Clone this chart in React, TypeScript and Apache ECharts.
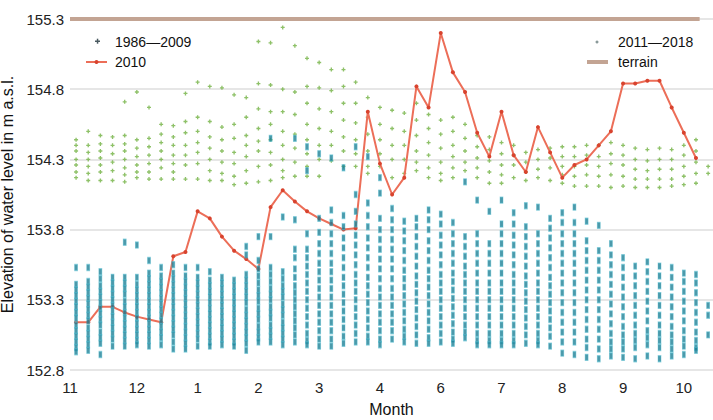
import React, { useEffect, useRef } from "react";
import * as echarts from "echarts";

// x axis: week index from 1 November (11) onwards
const xLabels = ["11", "12", "1", "2", "3", "4", "6", "7", "8", "9", "10"];
const xLabelPos = [-0.5, 5, 10, 15, 20, 25, 30, 35, 40, 45, 50];

const terrainLevel = 155.3;
const terrainSpan = [-0.5, 51.3];

// 2010 weekly water level (m a.s.l.)
const level2010 = [
  153.14, 153.14, 153.25, 153.25, 153.21, 153.18, 153.16, 153.14, 153.61, 153.64,
  153.93, 153.88, 153.75, 153.65, 153.59, 153.52, 153.96, 154.08, 154.0, 153.93,
  153.88, 153.84, 153.8, 153.81, 154.64, 154.27, 154.05, 154.17, 154.82, 154.67,
  155.2, 154.92, 154.78, 154.49, 154.32, 154.64, 154.33, 154.21, 154.53, 154.35,
  154.17, 154.26, 154.3, 154.4, 154.5, 154.84, 154.84, 154.86, 154.86, 154.67,
  154.49, 154.31,
];

// 1986–2009 values per week column
const levels1986to2009: number[][] = [
  [153.53, 153.41, 153.37, 153.33, 153.29, 153.25, 153.21, 153.17, 153.12, 153.08, 153.04, 153.0, 152.96, 152.93],
  [153.53, 153.43, 153.39, 153.35, 153.31, 153.27, 153.23, 153.19, 153.15, 153.1, 153.06, 153.02, 152.98, 152.94],
  [153.5, 153.45, 153.4, 153.36, 153.32, 153.28, 153.24, 153.2, 153.16, 153.12, 153.07, 153.03, 152.99, 152.91],
  [153.46, 153.42, 153.38, 153.34, 153.3, 153.26, 153.22, 153.18, 153.14, 153.1, 153.06, 153.02, 152.97],
  [153.71, 153.46, 153.42, 153.38, 153.34, 153.29, 153.25, 153.21, 153.17, 153.13, 153.09, 153.05, 153.01, 152.97],
  [153.69, 153.46, 153.41, 153.37, 153.33, 153.29, 153.25, 153.21, 153.17, 153.13, 153.09, 153.05, 153.01, 152.98],
  [153.58, 153.49, 153.45, 153.41, 153.37, 153.33, 153.29, 153.25, 153.21, 153.17, 153.13, 153.09, 153.05, 153.01, 152.97],
  [153.53, 153.47, 153.43, 153.39, 153.35, 153.31, 153.27, 153.23, 153.19, 153.15, 153.11, 153.07, 153.03, 152.98],
  [153.55, 153.49, 153.45, 153.41, 153.37, 153.33, 153.29, 153.25, 153.21, 153.17, 153.13, 153.09, 153.05, 153.0, 152.95],
  [153.53, 153.47, 153.43, 153.39, 153.35, 153.31, 153.27, 153.23, 153.19, 153.15, 153.11, 153.07, 153.03, 152.99, 152.95],
  [153.53, 153.46, 153.42, 153.38, 153.34, 153.3, 153.26, 153.22, 153.18, 153.14, 153.1, 153.06, 153.02, 152.97],
  [153.5, 153.44, 153.4, 153.36, 153.32, 153.28, 153.24, 153.2, 153.16, 153.12, 153.08, 153.04, 153.0, 152.97],
  [153.46, 153.42, 153.38, 153.34, 153.3, 153.26, 153.22, 153.18, 153.14, 153.1, 153.06, 153.02, 152.98],
  [153.44, 153.4, 153.36, 153.32, 153.28, 153.24, 153.2, 153.16, 153.12, 153.08, 153.04, 153.0, 152.97],
  [153.68, 153.62, 153.48, 153.44, 153.4, 153.36, 153.32, 153.28, 153.23, 153.19, 153.15, 153.11, 153.07, 153.03, 152.99, 152.94],
  [153.75, 153.58, 153.52, 153.47, 153.42, 153.37, 153.33, 153.29, 153.24, 153.2, 153.16, 153.11, 153.07, 153.03, 153.0],
  [154.45, 153.75, 153.53, 153.48, 153.43, 153.38, 153.34, 153.3, 153.25, 153.21, 153.17, 153.12, 153.08, 153.04, 153.0],
  [153.89, 153.5, 153.45, 153.4, 153.36, 153.32, 153.27, 153.23, 153.19, 153.14, 153.1, 153.06, 153.02, 152.98],
  [154.45, 153.87, 153.66, 153.6, 153.52, 153.46, 153.4, 153.35, 153.3, 153.25, 153.2, 153.15, 153.1, 153.05, 153.0],
  [154.39, 154.22, 153.77, 153.66, 153.6, 153.54, 153.48, 153.42, 153.36, 153.3, 153.24, 153.18, 153.12, 153.06, 153.01, 152.98],
  [154.34, 153.88, 153.78, 153.7, 153.63, 153.56, 153.5, 153.44, 153.38, 153.32, 153.26, 153.2, 153.14, 153.08, 153.02, 152.97],
  [154.31, 153.94, 153.85, 153.77, 153.7, 153.63, 153.56, 153.5, 153.44, 153.38, 153.32, 153.26, 153.2, 153.14, 153.08, 153.02, 152.97],
  [154.24, 153.9, 153.82, 153.74, 153.67, 153.6, 153.53, 153.46, 153.4, 153.34, 153.28, 153.22, 153.16, 153.1, 153.04, 152.99],
  [154.39, 154.05, 153.93, 153.84, 153.76, 153.69, 153.62, 153.55, 153.48, 153.42, 153.36, 153.3, 153.24, 153.18, 153.12, 153.06, 153.0],
  [154.32, 153.99, 153.9, 153.82, 153.74, 153.67, 153.6, 153.53, 153.46, 153.4, 153.34, 153.28, 153.22, 153.16, 153.1, 153.04, 153.0],
  [154.17, 154.06, 153.88, 153.8, 153.73, 153.66, 153.59, 153.52, 153.45, 153.38, 153.32, 153.26, 153.2, 153.14, 153.08, 153.02, 152.98],
  [153.95, 153.87, 153.8, 153.73, 153.66, 153.59, 153.52, 153.45, 153.38, 153.32, 153.26, 153.2, 153.14, 153.08, 153.02],
  [153.86, 153.79, 153.72, 153.65, 153.58, 153.51, 153.45, 153.39, 153.33, 153.27, 153.21, 153.15, 153.09, 153.04, 153.0],
  [153.88, 153.82, 153.75, 153.68, 153.61, 153.54, 153.47, 153.41, 153.35, 153.29, 153.23, 153.17, 153.11, 153.05, 152.99],
  [153.94, 153.87, 153.8, 153.72, 153.65, 153.58, 153.51, 153.45, 153.39, 153.33, 153.27, 153.21, 153.15, 153.09, 153.03, 152.99],
  [153.91, 153.84, 153.76, 153.69, 153.62, 153.55, 153.48, 153.42, 153.36, 153.3, 153.24, 153.18, 153.12, 153.06, 153.0],
  [153.85, 153.77, 153.7, 153.63, 153.56, 153.49, 153.43, 153.37, 153.31, 153.25, 153.19, 153.13, 153.07, 153.02, 152.99],
  [154.14, 153.75, 153.68, 153.61, 153.54, 153.48, 153.42, 153.36, 153.3, 153.24, 153.18, 153.12, 153.07, 153.03],
  [154.01, 153.77, 153.7, 153.63, 153.56, 153.49, 153.42, 153.36, 153.3, 153.24, 153.18, 153.12, 153.06, 153.01, 152.98],
  [153.93, 153.7, 153.63, 153.56, 153.49, 153.42, 153.36, 153.3, 153.24, 153.18, 153.12, 153.06, 153.01, 152.98],
  [154.01, 153.84, 153.77, 153.7, 153.63, 153.56, 153.49, 153.42, 153.36, 153.3, 153.24, 153.18, 153.12, 153.06, 153.01, 152.98],
  [153.92, 153.84, 153.76, 153.69, 153.62, 153.55, 153.48, 153.42, 153.36, 153.3, 153.24, 153.18, 153.12, 153.06, 153.01, 152.98],
  [153.97, 153.82, 153.75, 153.68, 153.61, 153.54, 153.47, 153.41, 153.35, 153.29, 153.23, 153.17, 153.11, 153.05, 152.99],
  [153.96, 153.77, 153.7, 153.63, 153.56, 153.49, 153.42, 153.36, 153.3, 153.24, 153.18, 153.12, 153.06, 153.01, 152.98],
  [153.88, 153.81, 153.74, 153.67, 153.6, 153.53, 153.46, 153.4, 153.34, 153.28, 153.22, 153.16, 153.1, 153.04, 152.97],
  [153.92, 153.85, 153.77, 153.7, 153.63, 153.56, 153.49, 153.42, 153.35, 153.28, 153.21, 153.14, 153.07, 153.0, 152.92],
  [153.96, 153.85, 153.77, 153.7, 153.63, 153.56, 153.49, 153.42, 153.35, 153.28, 153.21, 153.14, 153.07, 153.0, 152.91],
  [153.86, 153.72, 153.65, 153.58, 153.51, 153.44, 153.37, 153.3, 153.23, 153.16, 153.09, 153.02, 152.96, 152.89],
  [153.83, 153.65, 153.58, 153.51, 153.44, 153.37, 153.3, 153.23, 153.16, 153.09, 153.02, 152.95, 152.88],
  [153.7, 153.62, 153.55, 153.48, 153.41, 153.34, 153.27, 153.2, 153.13, 153.06, 153.0, 152.95, 152.9],
  [153.6, 153.53, 153.46, 153.39, 153.32, 153.25, 153.18, 153.11, 153.05, 153.0, 152.95, 152.89],
  [153.54, 153.47, 153.4, 153.33, 153.26, 153.19, 153.12, 153.06, 153.01, 152.96, 152.88],
  [153.57, 153.5, 153.43, 153.36, 153.29, 153.22, 153.15, 153.08, 153.03, 152.98, 152.9],
  [153.54, 153.47, 153.4, 153.33, 153.26, 153.19, 153.12, 153.06, 153.01, 152.96, 152.88],
  [153.53, 153.46, 153.39, 153.32, 153.25, 153.18, 153.11, 153.05, 153.0, 152.95, 152.9],
  [153.49, 153.43, 153.36, 153.29, 153.22, 153.15, 153.08, 153.02, 152.97, 152.91],
  [153.48, 153.42, 153.35, 153.28, 153.21, 153.14, 153.07, 153.01, 152.96, 152.94],
  [153.26, 153.19, 153.05],
];

// 2011–2018 values per week column
const levels2011to2018: number[][] = [
  [154.44, 154.4, 154.36, 154.3, 154.26, 154.21, 154.17],
  [154.5, 154.4, 154.35, 154.3, 154.25, 154.2, 154.15],
  [154.47, 154.41, 154.36, 154.31, 154.26, 154.21, 154.15],
  [154.46, 154.4, 154.34, 154.28, 154.22, 154.15],
  [154.71, 154.47, 154.41, 154.36, 154.3, 154.24, 154.19, 154.14],
  [154.78, 154.44, 154.38, 154.32, 154.26, 154.21, 154.17],
  [154.67, 154.45, 154.39, 154.33, 154.27, 154.21, 154.16],
  [154.55, 154.48, 154.42, 154.36, 154.3, 154.24, 154.16],
  [154.54, 154.46, 154.4, 154.33, 154.27, 154.21, 154.16],
  [154.77, 154.57, 154.49, 154.4, 154.33, 154.26, 154.16],
  [154.85, 154.6, 154.5, 154.42, 154.35, 154.27, 154.16],
  [154.82, 154.57, 154.46, 154.38, 154.3, 154.22, 154.15],
  [154.81, 154.53, 154.44, 154.36, 154.28, 154.2, 154.15],
  [154.76, 154.55, 154.45, 154.35, 154.27, 154.18, 154.12],
  [154.74, 154.6, 154.47, 154.4, 154.32, 154.22, 154.13],
  [155.14, 154.84, 154.66, 154.52, 154.43, 154.36, 154.25, 154.14],
  [155.13, 154.83, 154.64, 154.55, 154.44, 154.35, 154.26, 154.15],
  [155.24, 154.8, 154.64, 154.5, 154.4, 154.3, 154.22, 154.17],
  [155.11, 154.78, 154.62, 154.48, 154.38, 154.28, 154.18],
  [155.02, 154.82, 154.7, 154.55, 154.44, 154.34, 154.25, 154.18],
  [154.99, 154.81, 154.66, 154.52, 154.4, 154.3, 154.18],
  [154.94, 154.79, 154.64, 154.5, 154.4, 154.29],
  [154.94, 154.82, 154.7, 154.58, 154.46, 154.36, 154.25],
  [154.85, 154.7, 154.56, 154.44, 154.34, 154.25],
  [154.74, 154.6, 154.48, 154.36, 154.25, 154.2],
  [154.67, 154.55, 154.44, 154.34, 154.25],
  [154.65, 154.52, 154.4, 154.3, 154.17],
  [154.63, 154.5, 154.4, 154.3, 154.2],
  [154.7, 154.58, 154.47, 154.36, 154.28, 154.22],
  [154.62, 154.52, 154.42, 154.33, 154.24, 154.17],
  [154.58, 154.48, 154.38, 154.28, 154.2, 154.15],
  [154.6, 154.5, 154.4, 154.32, 154.24, 154.17],
  [154.55, 154.45, 154.36, 154.28, 154.22],
  [154.47, 154.39, 154.31, 154.24, 154.17],
  [154.46, 154.37, 154.29, 154.21, 154.13],
  [154.42, 154.34, 154.26, 154.19, 154.13],
  [154.4, 154.33, 154.26, 154.17],
  [154.35, 154.28, 154.21, 154.15],
  [154.37, 154.3, 154.23, 154.17],
  [154.38, 154.31, 154.24, 154.15],
  [154.39, 154.32, 154.25, 154.19, 154.13],
  [154.39, 154.32, 154.25, 154.18, 154.11],
  [154.4, 154.33, 154.26, 154.19, 154.11],
  [154.4, 154.32, 154.25, 154.18, 154.11],
  [154.42, 154.34, 154.27, 154.19, 154.1],
  [154.4, 154.33, 154.26, 154.18, 154.11],
  [154.38, 154.3, 154.23, 154.16, 154.1],
  [154.37, 154.29, 154.22, 154.16, 154.1],
  [154.38, 154.3, 154.23, 154.16, 154.1],
  [154.37, 154.3, 154.23, 154.16, 154.11],
  [154.4, 154.33, 154.25, 154.18, 154.12],
  [154.44, 154.36, 154.28, 154.2, 154.13],
  [154.25, 154.2],
];

const FONT = "Liberation Sans";
const PLUS = "path://M1,0H2V1H3V2H2V3H1V2H0V1H1Z";

function toPoints(cols: number[][]): number[][] {
  const out: number[][] = [];
  cols.forEach((col, w) => col.forEach((v) => out.push([w, v])));
  return out;
}

export default function App() {
  const ref = useRef<HTMLDivElement>(null);

  useEffect(() => {
    if (!ref.current) return;
    const chart = echarts.init(ref.current, null, { renderer: "svg" });

    const legendText = (x: number, y: number, text: string) => ({
      type: "text",
      x,
      y,
      style: { text, fill: "#111", font: `14px "${FONT}"`, verticalAlign: "middle" },
    });

    chart.setOption({
      animation: false,
      backgroundColor: "#ffffff",
      grid: {
        left: 70,
        right: 0,
        top: 19,
        bottom: 50,
        containLabel: false,
        outerBoundsMode: "none",
      },
      xAxis: {
        type: "value",
        min: -0.5,
        max: 52.4,
        name: "Month",
        nameLocation: "middle",
        nameGap: 31,
        nameTextStyle: { fontFamily: FONT, fontSize: 16, color: "#111" },
        axisLine: { show: false },
        axisTick: { show: false },
        splitLine: { show: false },
        axisLabel: {
          customValues: xLabelPos,
          fontFamily: FONT,
          fontSize: 15,
          color: "#222",
          margin: 10,
          formatter: (v: number) => {
            let best = 0;
            xLabelPos.forEach((p, i) => {
              if (Math.abs(p - v) < Math.abs(xLabelPos[best] - v)) best = i;
            });
            return xLabels[best];
          },
        },
      },
      yAxis: {
        type: "value",
        min: 152.8,
        max: 155.3,
        interval: 0.5,
        name: "Elevation of water level in m a.s.l.",
        nameLocation: "middle",
        nameGap: 49,
        nameTextStyle: { fontFamily: FONT, fontSize: 16, color: "#111" },
        axisLine: { show: false },
        axisTick: { show: false },
        splitLine: { show: true, lineStyle: { color: "#e6e6e6", width: 2 } },
        axisLabel: {
          fontFamily: FONT,
          fontSize: 15,
          color: "#222",
          margin: 6,
          formatter: (v: number) => v.toFixed(1),
        },
      },
      series: [
        {
          name: "2011—2018",
          type: "scatter",
          symbol: PLUS,
          symbolSize: 4,
          itemStyle: { color: "#72b242" },
          data: toPoints(levels2011to2018),
          z: 2,
        },
        {
          name: "2010",
          type: "line",
          data: level2010.map((v, i) => [i, v]),
          symbol: "circle",
          symbolSize: 4,
          lineStyle: { color: "#ec6e58", width: 2 },
          itemStyle: { color: "#d8432e" },
          z: 3,
        },
        {
          name: "1986—2009",
          type: "scatter",
          symbol: "rect",
          symbolSize: [3, 6],
          itemStyle: { color: "#1f8095", borderColor: "rgba(80,185,205,0.7)", borderWidth: 1 },
          data: toPoints(levels1986to2009),
          z: 4,
        },
        {
          name: "terrain",
          type: "line",
          data: terrainSpan.map((x) => [x, terrainLevel]),
          symbol: "none",
          lineStyle: { color: "#c3a493", width: 4 },
          z: 6,
        },
      ],
      graphic: [
        // legend, left block
        { type: "rect", shape: { x: 95, y: 40.5, width: 5, height: 1.5 }, style: { fill: "#4a5a60" } },
        { type: "rect", shape: { x: 96.8, y: 38.7, width: 1.5, height: 5 }, style: { fill: "#4a5a60" } },
        legendText(115, 42, "1986—2009"),
        { type: "line", shape: { x1: 86, y1: 62, x2: 107, y2: 62 }, style: { stroke: "#ec6e58", lineWidth: 2 } },
        { type: "circle", shape: { cx: 96.5, cy: 62, r: 2 }, style: { fill: "#d8432e" } },
        legendText(115, 62, "2010"),
        // legend, right block
        { type: "circle", shape: { cx: 597, cy: 42, r: 1.5 }, style: { fill: "#8a9a9a" } },
        legendText(618, 42, "2011—2018"),
        { type: "line", shape: { x1: 587, y1: 62, x2: 608, y2: 62 }, style: { stroke: "#c3a493", lineWidth: 4 } },
        legendText(618, 62, "terrain"),
      ],
    });

    return () => chart.dispose();
  }, []);

  return (
    <div
      ref={ref}
      style={{ position: "fixed", left: 0, top: 0, width: 713, height: 420, background: "#fff" }}
    />
  );
}
